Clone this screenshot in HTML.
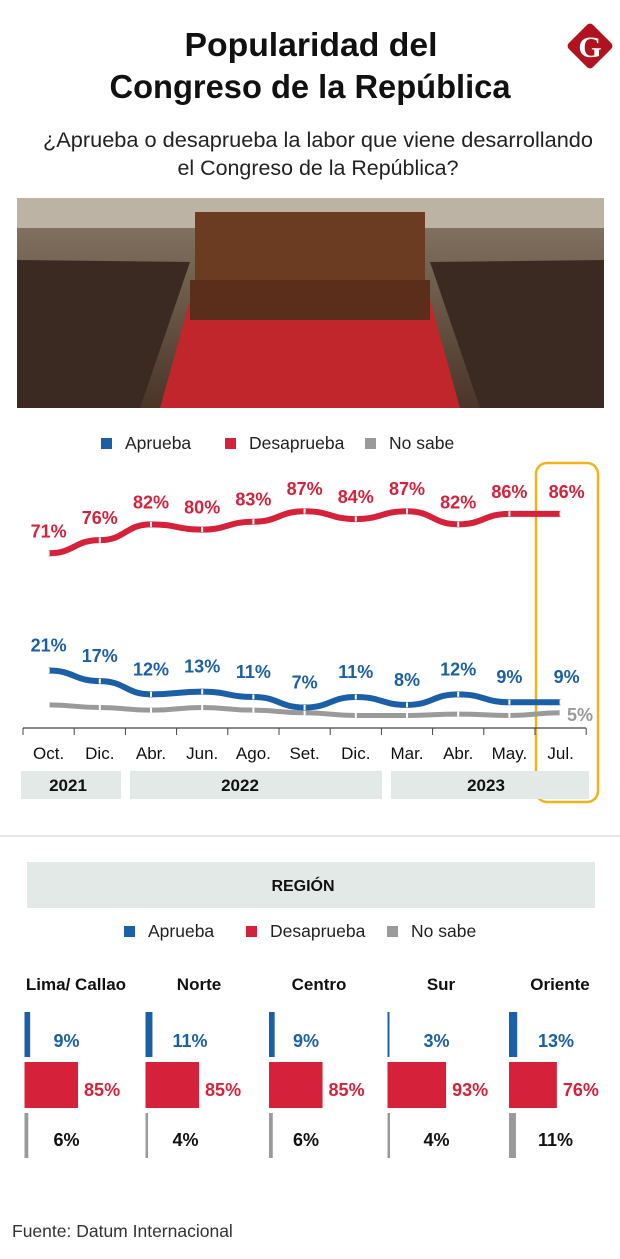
<!DOCTYPE html>
<html><head><meta charset="utf-8"><style>
html,body{margin:0;padding:0;background:#fff;}
svg{display:block;font-family:"Liberation Sans",sans-serif;}
</style></head><body>
<svg id="root" width="620" height="1259" viewBox="0 0 620 1259">
<rect width="620" height="1259" fill="#fff"/>
<g>
<text x="311" y="56" text-anchor="middle" font-size="33" font-weight="bold" fill="#111" textLength="253" lengthAdjust="spacingAndGlyphs">Popularidad del</text>
<text x="310" y="98" text-anchor="middle" font-size="33" font-weight="bold" fill="#111" textLength="401" lengthAdjust="spacingAndGlyphs">Congreso de la República</text>
<g>
<rect x="573" y="29" width="34" height="34" rx="4" fill="#b0121e" transform="rotate(45 590 46)"/>
<text x="590" y="57" text-anchor="middle" font-size="30" font-weight="bold" fill="#fff" font-family="Liberation Serif,serif">G</text>
</g>
<text x="318" y="147" text-anchor="middle" font-size="21" fill="#222" textLength="550" lengthAdjust="spacingAndGlyphs">¿Aprueba o desaprueba la labor que viene desarrollando</text>
<text x="318" y="175" text-anchor="middle" font-size="21" fill="#222" textLength="281" lengthAdjust="spacingAndGlyphs">el Congreso de la República?</text>
</g>
<g>
<defs>
<linearGradient id="wall" x1="0" y1="0" x2="0" y2="1"><stop offset="0" stop-color="#8a7a68"/><stop offset="1" stop-color="#4a3528"/></linearGradient>
</defs>
<rect x="17" y="198" width="587" height="210" fill="url(#wall)"/>
<rect x="17" y="198" width="587" height="30" fill="#bdb3a5"/>
<rect x="195" y="212" width="230" height="76" fill="#6b3b22"/>
<polygon points="17,260 190,262 140,408 17,408" fill="#3a2a22"/>
<polygon points="604,260 430,262 480,408 604,408" fill="#3a2a22"/>
<polygon points="190,300 430,300 460,408 160,408" fill="#c0262c"/>
<rect x="190" y="280" width="240" height="40" fill="#5a2e1a"/>
</g>
<g id="chart"></g>
<g id="region"></g>
<text x="12" y="1237" font-size="17.5" fill="#333">Fuente: Datum Internacional</text>
</svg>
<script>
const months=["Oct.","Dic.","Abr.","Jun.","Ago.","Set.","Dic.","Mar.","Abr.","May.","Jul."];
const desaprueba=[71,76,82,80,83,87,84,87,82,86,86];
const aprueba=[21,17,12,13,11,7,11,8,12,9,9];
const noSabe=[8,7,6,7,6,5,4,4,4.5,4,5];
const years=["2021","2022","2023"];
const regions=["Lima/ Callao","Norte","Centro","Sur","Oriente"];
const regAprueba=[9,11,9,3,13];
const regDesaprueba=[85,85,85,93,76];
const regNoSabe=[6,4,6,4,11];

const NS="http://www.w3.org/2000/svg";
function mk(tag,attrs,parent,text){const e=document.createElementNS(NS,tag);for(const k in attrs)e.setAttribute(k,attrs[k]);if(text!==undefined)e.textContent=text;parent.appendChild(e);return e;}
const BLUE="#1b5fa6",RED="#d6213a",GRAY="#9a9a9a";
const chart=document.getElementById('chart');
const xAt=i=>48.6+i*51.2;
const yHigh=v=>740-v*2.63;
const yLow=v=>726-v*2.64;

function legend(parent,y,x0,offs){
  const items=[["Aprueba",BLUE],["Desaprueba",RED],["No sabe",GRAY]];
  items.forEach((it,k)=>{
    const g=mk('g',{},parent);
    
    
    mk('rect',{x:x0+offs[k],y:y-11,width:11,height:11,fill:it[1]},g);
    mk('text',{x:x0+offs[k]+24,y:y,'font-size':17.5,fill:'#222'},g,it[0]);
  });
}
legend(chart,449,101,[0,124,264]);

const hb=mk('rect',{x:536,y:463,width:62,height:339,rx:11,fill:'none',stroke:'#f2b21a','stroke-width':2.5},chart);



function smoothPath(pts){
  let d="M"+pts[0][0]+","+pts[0][1];
  for(let i=1;i<pts.length;i++){const p=pts[i-1],q=pts[i];const mx=(p[0]+q[0])/2;d+=" C"+mx+","+p[1]+" "+mx+","+q[1]+" "+q[0]+","+q[1];}
  return d;
}
function series(vals,yf,color,name,w,labels,labelColor,dy){
  const pts=vals.map((v,i)=>[xAt(i),yf(v)]);
  const p=mk('path',{d:smoothPath(pts),fill:'none',stroke:color,'stroke-width':w,'stroke-linecap':'butt'},chart);
  
  
  pts.forEach((pt,i)=>{
    const m=mk('rect',{x:pt[0]-1,y:pt[1]-2.5,width:2,height:5,fill:'#fff'},chart);
    
    
    if(labels){
      const t=mk('text',{x:pt[0]+(i==10?6:0),y:pt[1]-dy,'text-anchor':'middle','font-size':18,'font-weight':'bold',fill:labelColor},chart,vals[i]+"%");
      
      
    }
  });
}
series(noSabe,yLow,GRAY,'no-sabe',5,false);
series(aprueba,yLow,BLUE,'aprueba',6,true,BLUE,19);
series(desaprueba,yHigh,RED,'desaprueba',6,true,RED,16);
const g5=mk('text',{x:580,y:721,'text-anchor':'middle','font-size':18,'font-weight':'bold',fill:GRAY},chart,noSabe[10]+"%");



const ax=mk('line',{x1:23,y1:728,x2:586,y2:728,stroke:'#444','stroke-width':1.2},chart);


for(let i=0;i<=11;i++){const x=23+i*51.2;const t=mk('line',{x1:x,y1:728,x2:x,y2:735,stroke:'#444','stroke-width':1},chart);}
months.forEach((m,i)=>{const t=mk('text',{x:xAt(i),y:759,'text-anchor':'middle','font-size':17,fill:'#111'},chart,m);});
const yb=[[21,100],[130,252],[391,198]];
const yLblX=[68,240,486];
years.forEach((y,i)=>{
  const g=mk('g',{},chart);
  
  
  mk('rect',{x:yb[i][0],y:771,width:yb[i][1],height:28,fill:'#e3e9e7'},g);
  mk('text',{x:yLblX[i],y:791,'text-anchor':'middle','font-size':17,'font-weight':'bold',fill:'#111'},g,y);
});

const reg=document.getElementById('region');
const sep=mk('line',{x1:0,y1:836,x2:620,y2:836,stroke:'#ccc','stroke-width':1},reg);


const rb=mk('rect',{x:27,y:862,width:568,height:46,fill:'#e3e9e7'},reg);


mk('text',{x:303,y:891,'text-anchor':'middle','font-size':16,'font-weight':'bold',fill:'#111'},reg,"REGIÓN");
legend(reg,937,124,[0,122,263]);
const colX=[24.5,145.5,269,387.5,509];
const titleX=[76,199,319,441,560];
const lblOff=[29,27,24,36,29];
const BW=0.63;
regions.forEach((r,i)=>{
  const g=mk('g',{},reg);
  
  
  mk('text',{x:titleX[i],y:990,'text-anchor':'middle','font-size':17,'font-weight':'bold',fill:'#111'},g,r);
  const x=colX[i];
  const b1=mk('rect',{x:x,y:1012,width:Math.max(2,regAprueba[i]*BW),height:45,fill:BLUE},g);
  
  
  mk('text',{x:x+lblOff[i],y:1047,'font-size':18,'font-weight':'bold',fill:BLUE},g,regAprueba[i]+"%");
  const w2=regDesaprueba[i]*BW;
  const b2=mk('rect',{x:x,y:1062,width:w2,height:46,fill:RED},g);
  
  
  mk('text',{x:x+w2+6,y:1096,'font-size':18,'font-weight':'bold',fill:RED},g,regDesaprueba[i]+"%");
  const b3=mk('rect',{x:x,y:1113,width:Math.max(2,regNoSabe[i]*BW),height:45,fill:GRAY},g);
  
  
  mk('text',{x:x+lblOff[i],y:1146,'font-size':18,'font-weight':'bold',fill:'#111'},g,regNoSabe[i]+"%");
});
</script>
</body></html>
